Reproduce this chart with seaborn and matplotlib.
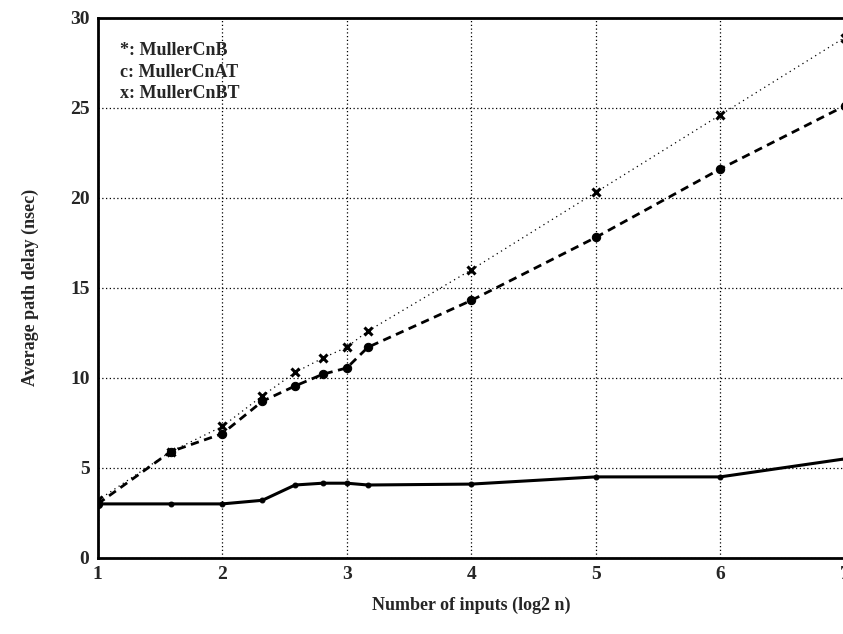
import matplotlib
matplotlib.use("Agg")
import matplotlib.pyplot as plt
import seaborn as sns
import numpy as np

# data
x_inputs = [1, 1.585, 2, 2.322, 2.585, 2.807, 3, 3.17, 4, 5, 6, 7]
muller_cnb = [3.0, 5.9, 6.9, 8.7, 9.55, 10.2, 10.55, 11.7, 14.3, 17.8, 21.6, 25.1]
muller_cnat = [3.0, 3.0, 3.0, 3.2, 4.05, 4.15, 4.15, 4.05, 4.1, 4.5, 4.5, 5.5]
muller_cnbt = [3.2, 5.9, 7.3, 9.0, 10.3, 11.1, 11.7, 12.6, 16.0, 20.3, 24.6, 28.9]

legend_lines = ["*: MullerCnB", "c: MullerCnAT", "x: MullerCnBT"]

sns.set_style("white")
plt.rcParams['font.family'] = ['Liberation Serif', 'DejaVu Serif']
plt.rcParams['font.weight'] = 'bold'

fig = plt.figure(figsize=(8.43, 6.34), dpi=100)
ax = fig.add_axes([0.116, 0.12, 0.886, 0.852])

sns.lineplot(x=x_inputs, y=muller_cnat, ax=ax, color="black", linewidth=2.2,
             marker="o", markersize=3.5, markeredgecolor="black")
sns.lineplot(x=x_inputs, y=muller_cnb, ax=ax, color="black", linewidth=2,
             linestyle=(0, (3, 2)), marker="o", markersize=6, markeredgecolor="black")
sns.lineplot(x=x_inputs, y=muller_cnbt, ax=ax, color="black", linewidth=0.9,
             linestyle=(0, (1, 3)), marker="x", markersize=6, markeredgewidth=2.2,
             markeredgecolor="black")

ax.set_xlim(1, 7)
ax.set_ylim(0, 30)
ax.set_xticks(range(1, 8))
ax.set_yticks(range(0, 31, 5))
ax.grid(True, color="black", linestyle=(0, (1, 2)), linewidth=0.9)
ax.tick_params(direction="in", length=5, width=1.2, labelsize=14, pad=6)
for lbl in ax.get_xticklabels() + ax.get_yticklabels():
    lbl.set_fontweight("bold")
for side in ["left", "bottom", "top", "right"]:
    ax.spines[side].set_color("black")
    ax.spines[side].set_linewidth(2)

ax.set_xlabel("Number of inputs (log2 n)", fontsize=13, fontweight="bold", labelpad=10)
ax.set_ylabel("Average path delay (nsec)", fontsize=13, fontweight="bold", labelpad=22)

for i, t in enumerate(legend_lines):
    ax.text(0.03, 0.955 - i * 0.04, t, transform=ax.transAxes, fontsize=13,
            fontweight="bold", va="top", ha="left")

fig.savefig("out.png", dpi=100)
